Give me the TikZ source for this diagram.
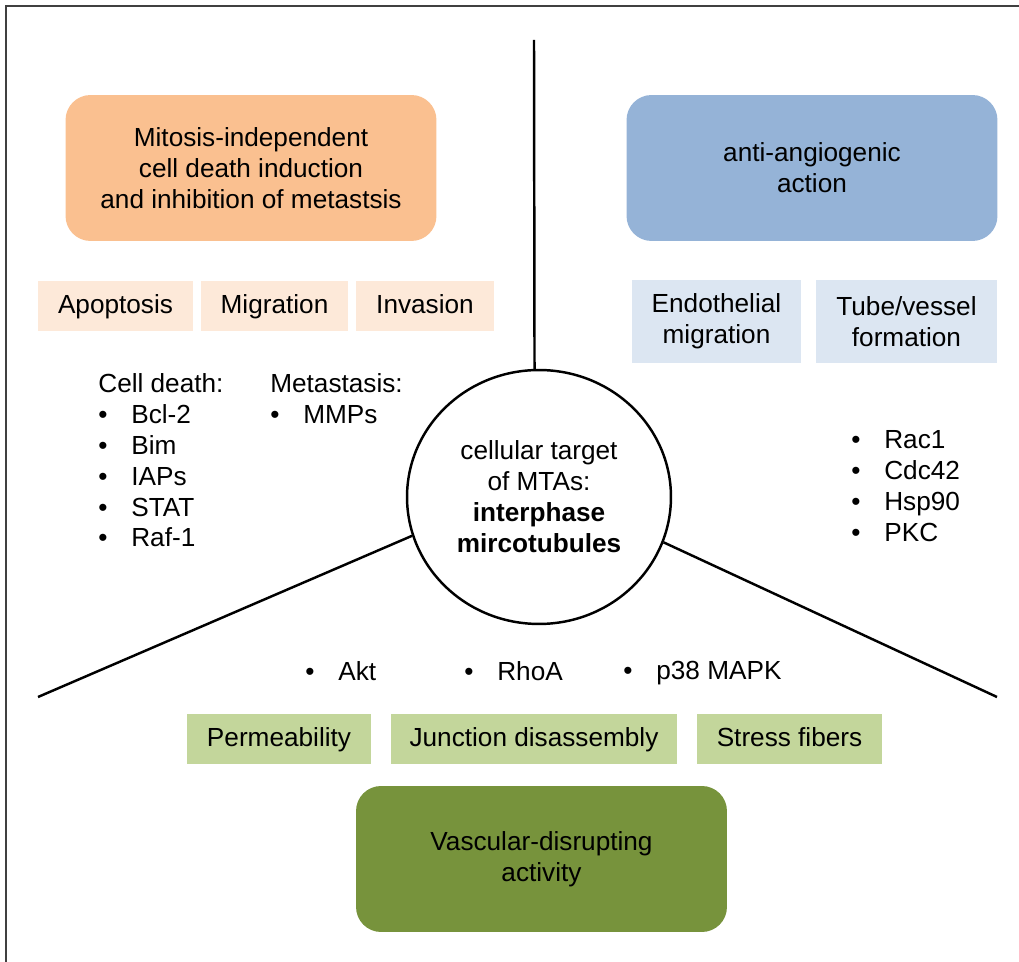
\documentclass[tikz,border=0pt]{standalone}
\usepackage{fontspec}
\setmainfont{Liberation Sans}
\usetikzlibrary{shapes.geometric}
\definecolor{mitofill}{HTML}{FAC090}
\definecolor{mitolight}{HTML}{FDE9D9}
\definecolor{angiofill}{HTML}{95B3D7}
\definecolor{angiolight}{HTML}{DCE6F2}
\definecolor{vdalight}{HTML}{C3D69B}
\definecolor{vdafill}{HTML}{77933C}
\definecolor{framegray}{HTML}{404040}
\newcommand{\itm}[1]{\makebox[0.66cm][l]{\textbullet}#1}

\begin{document}
\begin{tikzpicture}[x=0.02cm,y=-0.02cm,font=\fontsize{14.9}{17.6}\selectfont,
  bigbox/.style={rounded corners=0.5cm,minimum width=7.42cm,minimum height=2.92cm,align=center},
  tag/.style={minimum height=1cm,align=center},
  onetag/.style={tag,text height=0.9em,text depth=0pt},
  spoke/.style={line width=1.4pt},
  list/.style={anchor=north west,inner sep=0pt,align=left}]
\useasboundingbox (0,0) rectangle (1019,962);
\draw[line width=0.85pt,framegray] (6,962) -- (6,6) -- (1019,6);

% the three effects
\node[bigbox,fill=mitofill] (mito) at (251,168) {Mitosis-independent\\cell death induction\\and inhibition of metastsis};
\node[bigbox,fill=angiofill] (angio) at (812,168) {anti-angiogenic\\action};
\node[bigbox,fill=vdafill] (vda) at (541.5,859) {Vascular-disrupting\\activity};

\node[onetag,fill=mitolight,minimum width=3.1cm] (apop) at (115.5,306) {Apoptosis};
\node[onetag,fill=mitolight,minimum width=2.94cm] (migr) at (274.5,306) {Migration};
\node[onetag,fill=mitolight,minimum width=2.76cm] (inva) at (425,306) {Invasion};
\node[tag,fill=angiolight,minimum width=3.38cm,minimum height=1.66cm] (endo) at (716.5,321.5) {Endothelial\\migration};
\node[tag,fill=angiolight,minimum width=3.62cm,minimum height=1.66cm] (tube) at (906.5,321.5) {Tube/vessel\\formation};
\node[onetag,fill=vdalight,minimum width=3.68cm] (perm) at (279,739) {Permeability};
\node[onetag,fill=vdalight,minimum width=5.72cm] (junc) at (534,739) {Junction disassembly};
\node[onetag,fill=vdalight,minimum width=3.7cm] (stress) at (789.5,739) {Stress fibers};

% targets
\node[list] (death) at (98,373) {Cell death:\\\itm{Bcl-2}\\\itm{Bim}\\\itm{IAPs}\\\itm{STAT}\\\itm{Raf-1}};
\node[list] (meta) at (270,373) {Metastasis:\\\itm{MMPs}};
\node[list] (rac) at (851,430) {\itm{Rac1}\\\itm{Cdc42}\\\itm{Hsp90}\\\itm{PKC}};
\node[list] (akt) at (305,661) {\itm{Akt}};
\node[list] (rhoa) at (464,661) {\itm{RhoA}};
\node[list] (mapk) at (623,661) {\itm{p38 MAPK}};

% center
\node[draw,ellipse,spoke,minimum width=5.28cm,minimum height=5.08cm,align=center] (core) at (539,497) {cellular target\\of MTAs:\\\textbf{interphase}\\\textbf{mircotubules}};
\coordinate (topend) at (534,40);
\coordinate (leftend) at (38,697);
\coordinate (rightend) at (997,697);
\draw[spoke] (topend) -- (core.92);
\draw[spoke] (leftend) -- (core.197);
\draw[spoke] (rightend) -- (core.340);
\end{tikzpicture}
\end{document}
